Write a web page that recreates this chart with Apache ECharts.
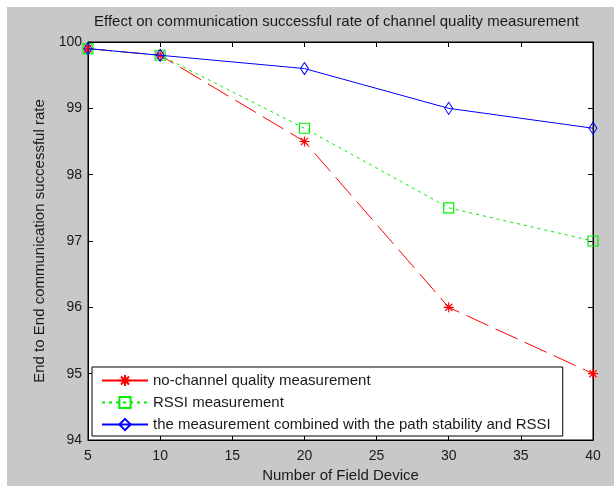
<!DOCTYPE html>
<html>
<head>
<meta charset="utf-8">
<script src="https://cdn.jsdelivr.net/npm/echarts@6/dist/echarts.min.js"></script>
<style>
  html, body { margin: 0; padding: 0; background: #fff; }
  #chart { width: 614px; height: 486px; }
</style>
</head>
<body>
<div id="chart"></div>
<script>
// data
const devices = [5, 10, 20, 30, 40];
const noChannel = [99.9, 99.8, 98.5, 96.0, 95.0];
const rssiOnly = [99.9, 99.8, 98.7, 97.5, 97.0];
const combined = [99.9, 99.8, 99.6, 99.0, 98.7];
const names = [
  "no-channel quality measurement",
  "RSSI measurement",
  "the measurement combined with the path stability and RSSI",
];

const font = "Liberation Sans, Arial, sans-serif";
const txt = "#1a1a1a";
// asterisk marker like matlab '*'
const starPath = "path://M0,-5L0,5M-5,0L5,0M-3.6,-3.6L3.6,3.6M-3.6,3.6L3.6,-3.6";

function pairs(ys) {
  return devices.map((x, i) => [x, ys[i]]);
}

function frameAxis(pos, isX) {
  return {
    type: "value",
    position: pos,
    min: isX ? 5 : 94,
    max: isX ? 40 : 100,
    interval: isX ? 5 : 1,
    axisLine: { show: true, onZero: false, lineStyle: { color: "#000", width: 1 } },
    axisTick: { show: true, inside: true, length: 5, lineStyle: { color: "#000" } },
    axisLabel: { show: false },
    splitLine: { show: false },
  };
}

const xBottom = Object.assign(frameAxis("bottom", true), {
  name: "Number of Field Device",
  nameLocation: "middle",
  nameGap: 28,
  nameTextStyle: { color: txt, fontSize: 15, fontFamily: font },
  axisLabel: { show: true, color: txt, fontSize: 14, fontFamily: font, margin: 9 },
});
const yLeft = Object.assign(frameAxis("left", false), {
  name: "End to End communication successful rate",
  nameLocation: "middle",
  nameGap: 41,
  nameTextStyle: { color: txt, fontSize: 15, fontFamily: font },
  axisLabel: { show: true, color: txt, fontSize: 14, fontFamily: font, margin: 6 },
});

const myChart = echarts.init(document.getElementById("chart"));
const option = {
  backgroundColor: "#fff",
  animation: false,
  graphic: [
    {
      type: "rect",
      z: -10,
      silent: true,
      shape: { x: 7, y: 7, width: 607, height: 479 },
      style: { fill: "#c8c8c8" },
    },
  ],
  title: {
    text: "Effect on communication successful rate of channel quality measurement",
    left: 89,
    top: 9,
    textStyle: { color: txt, fontSize: 15, fontWeight: "normal", fontFamily: font },
  },
  grid: {
    left: 88,
    right: 21,
    top: 42,
    bottom: 46,
    outerBoundsMode: "none",
    containLabel: false,
    show: true,
    backgroundColor: "#fff",
    borderColor: "#000",
    borderWidth: 1,
  },
  legend: {
    orient: "vertical",
    left: 92,
    top: 367,
    backgroundColor: "#fff",
    borderColor: "#000",
    borderWidth: 1,
    padding: [6, 12, 4, 9],
    itemGap: 7,
    itemWidth: 46,
    itemHeight: 14,
    textStyle: { color: txt, fontSize: 15, fontFamily: font },
    data: [
      { name: names[0], lineStyle: { type: "solid" } },
      { name: names[1] },
      { name: names[2] },
    ],
  },
  xAxis: [xBottom, frameAxis("top", true)],
  yAxis: [yLeft, frameAxis("right", false)],
  series: [
    {
      name: names[0],
      type: "line",
      data: pairs(noChannel),
      symbol: starPath,
      symbolSize: 10,
      itemStyle: { color: "rgba(0,0,0,0)", borderColor: "#ff0000", borderWidth: 1.2 },
      lineStyle: { color: "#ff0000", width: 1, type: [24, 8] },
      emphasis: { disabled: true },
      z: 3,
    },
    {
      name: names[1],
      type: "line",
      data: pairs(rssiOnly),
      symbol: "rect",
      symbolSize: 10,
      itemStyle: { color: "rgba(0,0,0,0)", borderColor: "#00ee00", borderWidth: 1.2 },
      lineStyle: { color: "#00ee00", width: 1, type: [3, 4] },
      emphasis: { disabled: true },
      z: 4,
    },
    {
      name: names[2],
      type: "line",
      data: pairs(combined),
      symbol: "diamond",
      symbolSize: [8, 12],
      itemStyle: { color: "rgba(0,0,0,0)", borderColor: "#0000ff", borderWidth: 1 },
      lineStyle: { color: "#0000ff", width: 1 },
      emphasis: { disabled: true },
      z: 5,
    },
  ],
};
myChart.setOption(option, true);
window.addEventListener("resize", function () {
  myChart.resize();
});
</script>
</body>
</html>
